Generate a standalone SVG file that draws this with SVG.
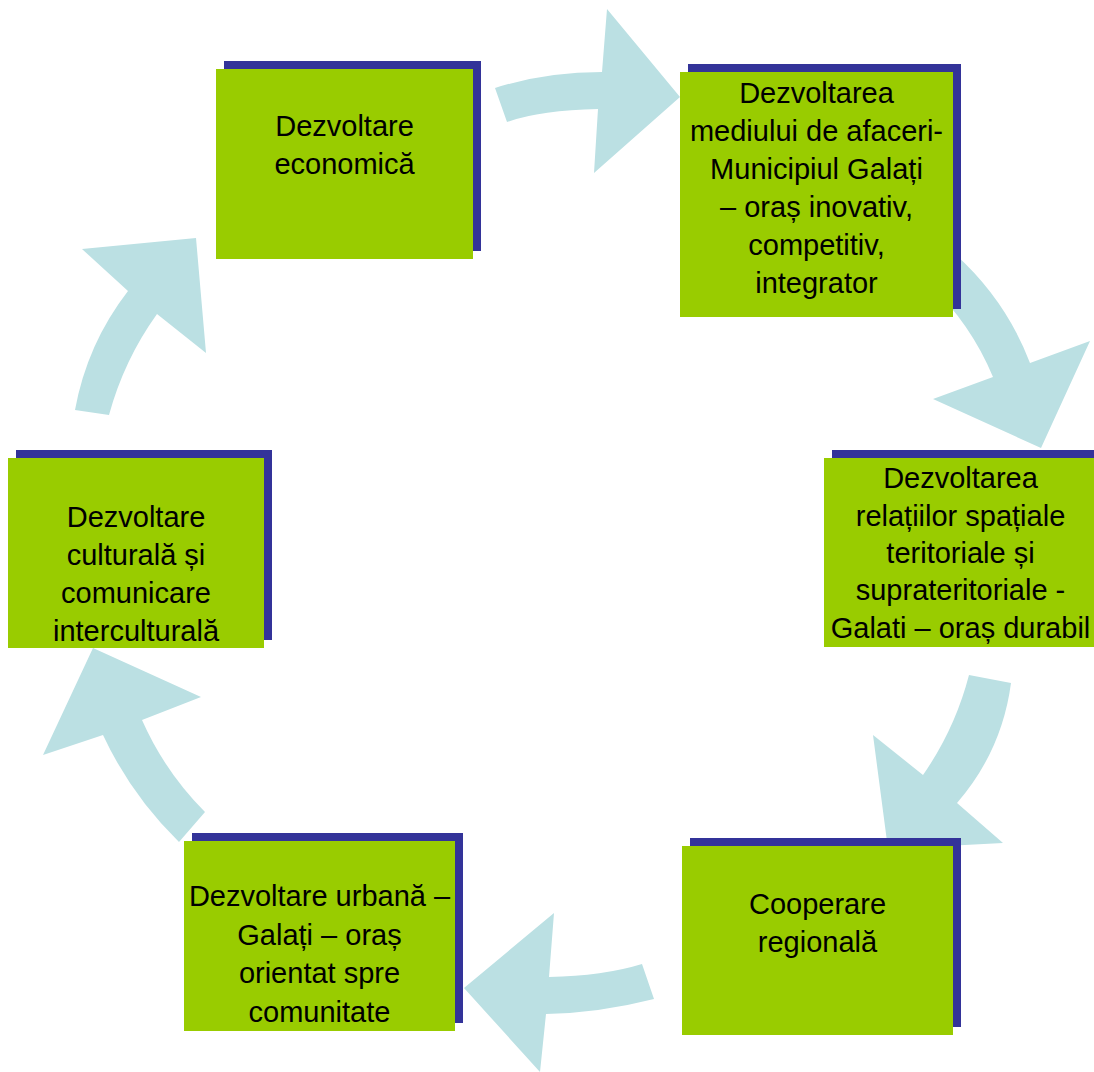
<svg xmlns="http://www.w3.org/2000/svg" width="1094" height="1072" viewBox="0 0 1094 1072">
<style>
.arrow{fill:#BBE0E3;stroke:none}
.shadow{fill:#333399}
.box{fill:#99CC00}
.lbl{font-family:"Liberation Sans",Arial,sans-serif;font-size:29px;fill:#000;text-anchor:middle}
</style>
<rect width="1094" height="1072" fill="#ffffff"/>
<g id="connectors">
<path class="arrow" d="M495,88 Q545,72 602,72 L607,9 L680,97 L594,173 L598,109 Q541,110 507,122 Z"/>
<path class="arrow" d="M955,254 Q1006,300 1030,363 L1090,341 L1041,448 L933,399 L993,377 Q971,324 929,284 Z"/>
<path class="arrow" d="M1011,683 Q1002,751 957,803 L1003,843 L888,849 L873,735 L923,775 Q955,729 969,675 Z"/>
<path class="arrow" d="M654,999 Q599,1013 546,1014 L540,1072 L464,988 L554,913 L549,977 Q603,976 642,964 Z"/>
<path class="arrow" d="M179,842 Q131,795 103,735 L43,755 L93,648 L201,697 L142,720 Q165,772 205,812 Z"/>
<path class="arrow" d="M75,410 Q87,344 128,291 L82,249 L196,238 L206,353 L157,314 Q124,360 109,415 Z"/>
</g>
<g id="node1">
<rect class="shadow" x="224" y="61" width="257" height="190"/>
<rect class="box" x="216" y="69" width="257" height="190"/>
<text class="lbl" x="344.5"><tspan x="344.5" y="136">Dezvoltare</tspan><tspan x="344.5" y="174">economică</tspan></text>
</g>
<g id="node2">
<rect class="shadow" x="688" y="64" width="273" height="245"/>
<rect class="box" x="680" y="72" width="273" height="245"/>
<text class="lbl"><tspan x="816.5" y="103">Dezvoltarea</tspan><tspan x="816.5" y="141">mediului de afaceri-</tspan><tspan x="816.5" y="179">Municipiul Galați</tspan><tspan x="816.5" y="217">– oraș inovativ,</tspan><tspan x="816.5" y="255">competitiv,</tspan><tspan x="816.5" y="293">integrator</tspan></text>
</g>
<g id="node3">
<rect class="shadow" x="832" y="450" width="273" height="189"/>
<rect class="box" x="824" y="458" width="273" height="189"/>
<text class="lbl"><tspan x="960.5" y="488">Dezvoltarea</tspan><tspan x="960.5" y="526">relațiilor spațiale</tspan><tspan x="960.5" y="563">teritoriale și</tspan><tspan x="960.5" y="600">suprateritoriale -</tspan><tspan x="960.5" y="638">Galati – oraș durabil</tspan></text>
</g>
<g id="node4">
<rect class="shadow" x="690" y="838" width="271" height="189"/>
<rect class="box" x="682" y="846" width="271" height="189"/>
<text class="lbl"><tspan x="817.5" y="914">Cooperare</tspan><tspan x="817.5" y="952">regională</tspan></text>
</g>
<g id="node5">
<rect class="shadow" x="192" y="833" width="271" height="190"/>
<rect class="box" x="184" y="841" width="271" height="190"/>
<text class="lbl"><tspan x="319.5" y="906">Dezvoltare urbană –</tspan><tspan x="319.5" y="945">Galați – oraș</tspan><tspan x="319.5" y="983">orientat spre</tspan><tspan x="319.5" y="1022">comunitate</tspan></text>
</g>
<g id="node6">
<rect class="shadow" x="16" y="450" width="256" height="190"/>
<rect class="box" x="8" y="458" width="256" height="190"/>
<text class="lbl"><tspan x="136" y="527">Dezvoltare</tspan><tspan x="136" y="565">culturală și</tspan><tspan x="136" y="603">comunicare</tspan><tspan x="136" y="641">interculturală</tspan></text>
</g>
</svg>
